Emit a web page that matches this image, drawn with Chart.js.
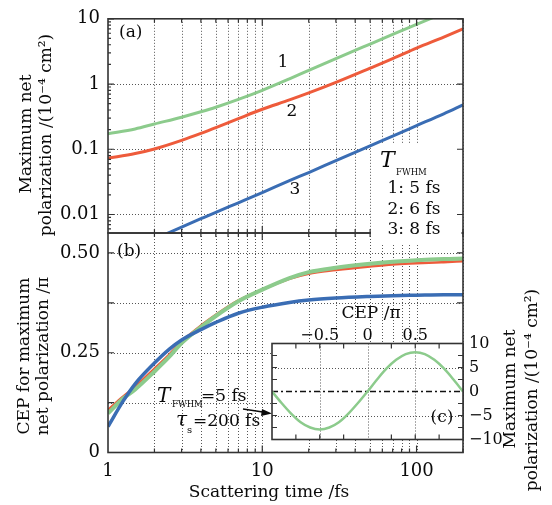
<!DOCTYPE html>
<html lang="en">
<head>
<meta charset="UTF-8">
<title>Maximum net polarization vs scattering time</title>
<script src="https://cdn.jsdelivr.net/npm/chart.js@4.4.1/dist/chart.umd.min.js"></script>
<style>
    body { margin: 0; background: #fff; }
    #wrap { position: relative; width: 552px; height: 505px; }
    #wrap canvas { position: absolute; left: 0; top: 0; }
</style>
</head>
<body>
<div id="wrap">
    <canvas id="chartA" width="552" height="505"></canvas>
    <canvas id="chartB" width="552" height="505"></canvas>
    <canvas id="chartC" width="552" height="505"></canvas>
</div>
<script>
// panel (a): maximum net polarization, 10^-4 cm^2
const timeA = [1, 1.5, 2, 3, 4, 5, 7, 10, 15, 20, 30, 50, 70, 100, 150, 200];
const polA5fs = [0.173, 0.205, 0.244, 0.31, 0.375, 0.44, 0.58, 0.8, 1.2, 1.62, 2.45, 4.1, 5.75, 8.2, 12.2, 16.2];
const polA6fs = [0.073, 0.086, 0.101, 0.137, 0.175, 0.215, 0.295, 0.41, 0.57, 0.73, 1.06, 1.75, 2.45, 3.55, 5.25, 7.0];
const timeA8 = [2, 3, 4, 5, 7, 10, 15, 20, 30, 50, 70, 100, 150, 200];
const polA8fs = [0.0042, 0.0064, 0.0086, 0.0108, 0.0151, 0.0216, 0.033, 0.044, 0.067, 0.113, 0.159, 0.23, 0.35, 0.48];
const yTicksA = [0.01, 0.1, 1, 10];
const yLabelsA = ['0.01', '0.1', '1', '10'];

// panel (b): CEP for maximum net polarization, units of pi
const timeB = [1, 1.25, 1.5, 2, 2.5, 3, 4, 5, 7, 10, 15, 20, 30, 50, 70, 100, 150, 200];
const cepB5fs = [0.098, 0.135, 0.158, 0.203, 0.24, 0.274, 0.314, 0.342, 0.379, 0.408, 0.437, 0.452, 0.463, 0.473, 0.478, 0.482, 0.485, 0.486];
const cepB6fs = [0.107, 0.14, 0.165, 0.21, 0.246, 0.278, 0.318, 0.345, 0.381, 0.408, 0.435, 0.448, 0.457, 0.466, 0.471, 0.474, 0.477, 0.479];
const cepB8fs = [0.065, 0.128, 0.172, 0.224, 0.259, 0.282, 0.308, 0.326, 0.349, 0.364, 0.376, 0.382, 0.387, 0.391, 0.393, 0.394, 0.395, 0.395];
const yTicksB = [0, 0.25, 0.5];
const yLabelsB = ['0', '0.25', '0.50'];
const xTicksB = [1, 10, 100];
const xLabelsB = ['1', '10', '100'];

// inset (c): polarization vs CEP, T_FWHM = 5 fs, tau_s = 200 fs
const cepC = [-1, -0.9, -0.8, -0.7, -0.6, -0.5, -0.4, -0.3, -0.2, -0.1, 0, 0.1, 0.2, 0.3, 0.4, 0.5, 0.6, 0.7, 0.8, 0.9, 1];
const polC = [0, -2.4, -4.6, -6.4, -7.5, -7.9, -7.5, -6.4, -4.6, -2.4, 0, 2.5, 4.8, 6.6, 7.8, 8.2, 7.8, 6.6, 4.8, 2.5, 0];
const xTicksC = [-0.5, 0, 0.5];
const xLabelsC = ['\u22120.5', '0', '0.5'];
const yTicksC = [10, 5, 0, -5, -10];
const yLabelsC = ['10', '5', '0', '\u22125', '\u221210'];

const GREEN = '#8ccb8c';
const RED = '#ee5b3b';
const BLUE = '#3a6db4';
const FONT = 'DejaVu Serif';
const INK = '#0a0a0a';

// minor log positions 2..9 per decade
function logMinor(from, to) {
    const out = [];
    for (let d = from; d <= to; d *= 10) {
        for (let k = 1; k <= 9; k++) out.push(k * d);
    }
    return out;
}
const logGridX = logMinor(1, 100).filter(v => v > 1 && v <= 200);

function pts(xs, ys) {
    return xs.map((x, i) => ({x: x, y: ys[i]}));
}

function line(data, color, width) {
    return {data: data, borderColor: color, borderWidth: width, pointRadius: 0,
        fill: false, cubicInterpolationMode: 'monotone', clip: 0};
}

function fixedTicks(values) {
    return s => { s.ticks = values.map(v => ({value: v})); };
}

function tickFont(size) {
    return {family: FONT, size: size};
}

// grid, inward ticks and frame, drawn through the scales
function frameGrid(cfg) {
    return {
        id: 'frameGrid',
        beforeDatasetsDraw(chart) {
            const {ctx, chartArea: a} = chart;
            const x = chart.scales.x, y = chart.scales.y;
            ctx.save();
            if (cfg.fill) {
                ctx.fillStyle = '#fff';
                ctx.fillRect(a.left, a.top, a.right - a.left, a.bottom - a.top);
            }
            ctx.strokeStyle = '#555';
            ctx.lineWidth = 1;
            ctx.setLineDash([1, 2]);
            ctx.beginPath();
            cfg.gridX.forEach(v => {
                const p = Math.round(x.getPixelForValue(v)) + 0.5;
                ctx.moveTo(p, a.top); ctx.lineTo(p, a.bottom);
            });
            cfg.gridY.forEach(v => {
                const p = Math.round(y.getPixelForValue(v)) + 0.5;
                ctx.moveTo(a.left, p); ctx.lineTo(a.right, p);
            });
            ctx.stroke();
            if (cfg.zeroLine) {
                ctx.strokeStyle = '#111';
                ctx.lineWidth = 1.5;
                ctx.setLineDash([6, 3, 2, 3]);
                const p = y.getPixelForValue(0);
                ctx.beginPath(); ctx.moveTo(a.left, p); ctx.lineTo(a.right, p); ctx.stroke();
            }
            if (cfg.mask) {
                ctx.fillStyle = '#fff';
                ctx.fillRect(cfg.mask[0], cfg.mask[1], cfg.mask[2], cfg.mask[3]);
            }
            ctx.restore();
        },
        afterDatasetsDraw(chart) {
            const {ctx, chartArea: a} = chart;
            const x = chart.scales.x, y = chart.scales.y;
            ctx.save();
            ctx.strokeStyle = '#333';
            ctx.lineWidth = 1.2;
            ctx.beginPath();
            cfg.ticks.forEach(t => {
                t.values.forEach(v => {
                    if (t.axis === 'x') {
                        const p = x.getPixelForValue(v);
                        if (t.sides.includes('bottom')) { ctx.moveTo(p, a.bottom); ctx.lineTo(p, a.bottom - t.len); }
                        if (t.sides.includes('top')) { ctx.moveTo(p, a.top); ctx.lineTo(p, a.top + t.len); }
                    } else {
                        const p = y.getPixelForValue(v);
                        if (t.sides.includes('left')) { ctx.moveTo(a.left, p); ctx.lineTo(a.left + t.len, p); }
                        if (t.sides.includes('right')) { ctx.moveTo(a.right, p); ctx.lineTo(a.right - t.len, p); }
                    }
                });
            });
            ctx.stroke();
            ctx.lineWidth = 1.6;
            ctx.strokeRect(a.left, a.top, a.right - a.left, a.bottom - a.top);
            ctx.restore();
        }
    };
}

function vtext(ctx, str, x, y) {
    ctx.save();
    ctx.translate(x, y);
    ctx.rotate(-Math.PI / 2);
    ctx.textAlign = 'center';
    ctx.textBaseline = 'middle';
    ctx.fillText(str, 0, 0);
    ctx.restore();
}

const baseOptions = {
    responsive: false,
    animation: false,
    events: [],
    plugins: {legend: {display: false}, tooltip: {enabled: false}}
};

// ---------- panel (a)
const textA = {
    id: 'textA',
    afterDraw(chart) {
        const ctx = chart.ctx;
        ctx.save();
        ctx.fillStyle = INK;
        ctx.font = '17px ' + FONT;
        vtext(ctx, 'Maximum net', 27, 134);
        vtext(ctx, 'polarization /(10\u207B\u2074 cm\u00B2)', 47, 135);
        ctx.textAlign = 'left';
        ctx.textBaseline = 'middle';
        ctx.fillText('(a)', 119, 33);
        ctx.textAlign = 'center';
        ctx.fillText('1', 283, 63);
        ctx.fillText('2', 292, 112);
        ctx.fillText('3', 295, 190);
        ctx.restore();
    }
};

new Chart(document.getElementById('chartA'), {
    type: 'line',
    data: {
        datasets: [
            line(pts(timeA8, polA8fs), BLUE, 3),
            line(pts(timeA, polA6fs), RED, 3),
            line(pts(timeA, polA5fs), GREEN, 3)
        ]
    },
    options: Object.assign({}, baseOptions, {
        layout: {padding: {left: 0, right: 89, top: 15, bottom: 272}},
        scales: {
            x: {type: 'logarithmic', min: 1, max: 200, display: false},
            y: {
                type: 'logarithmic', min: 0.0052, max: 10,
                afterFit: s => { s.width = 108; },
                afterBuildTicks: fixedTicks(yTicksA),
                grid: {display: false, drawTicks: false},
                border: {display: false},
                ticks: {padding: 8, color: INK, autoSkip: false, font: tickFont(18),
                    callback: (v, i) => yLabelsA[i]}
            }
        }
    }),
    plugins: [frameGrid({
        gridX: logGridX,
        gridY: [0.01, 0.1, 1],
        mask: [371, 143, 90.5, 91],
        ticks: [
            {axis: 'y', values: yTicksA, len: 6, sides: ['left', 'right']},
            {axis: 'y', values: logMinor(0.001, 1).filter(v => v >= 0.0052 && v < 10 && !yTicksA.includes(v)), len: 3, sides: ['left']},
            {axis: 'x', values: [10, 100], len: 7, sides: ['bottom', 'top']},
            {axis: 'x', values: logGridX.filter(v => v !== 10 && v !== 100), len: 4, sides: ['bottom', 'top']}
        ]
    }), textA]
});

// ---------- panel (b)
const textB = {
    id: 'textB',
    afterDraw(chart) {
        const ctx = chart.ctx;
        ctx.save();
        ctx.fillStyle = INK;
        ctx.font = '17px ' + FONT;
        vtext(ctx, 'CEP for maximum', 25, 356);
        vtext(ctx, 'net polarization /\u03C0', 44, 356);
        ctx.textAlign = 'center';
        ctx.textBaseline = 'middle';
        ctx.fillText('Scattering time /fs', 269, 493);
        ctx.textAlign = 'left';
        ctx.fillText('(b)', 117, 252);

        // T_FWHM = 5 fs, tau_s = 200 fs
        ctx.font = 'italic 20px ' + FONT;
        ctx.fillText('T', 157, 397);
        ctx.font = '8.5px ' + FONT;
        ctx.fillText('FWHM', 172, 405);
        ctx.font = '17px ' + FONT;
        ctx.fillText('=5 fs', 201, 397);
        ctx.font = 'italic 20px ' + FONT;
        ctx.fillText('\u03C4', 176, 421);
        ctx.font = '10px ' + FONT;
        ctx.fillText('s', 187, 430);
        ctx.font = '17px ' + FONT;
        ctx.fillText('=200 fs', 193, 422);

        // arrow to inset
        ctx.strokeStyle = INK;
        ctx.lineWidth = 1.3;
        ctx.beginPath(); ctx.moveTo(243, 409); ctx.lineTo(266, 412.5); ctx.stroke();
        ctx.beginPath();
        ctx.moveTo(272, 413.5); ctx.lineTo(262, 409); ctx.lineTo(261, 416); ctx.closePath();
        ctx.fillStyle = INK;
        ctx.fill();

        // key for panel (a), masks the frame and ticks behind it
        ctx.fillStyle = '#fff';
        ctx.fillRect(371, 224, 90.5, 20);
        ctx.fillStyle = INK;
        ctx.font = 'italic 22px ' + FONT;
        ctx.textAlign = 'left';
        ctx.fillText('T', 380, 161);
        ctx.font = '8.5px ' + FONT;
        ctx.fillText('FWHM', 396, 173);
        ctx.font = '17px ' + FONT;
        ctx.textAlign = 'center';
        ctx.fillText('1: 5 fs', 414, 189);
        ctx.fillText('2: 6 fs', 414, 210);
        ctx.fillText('3: 8 fs', 414, 230);
        ctx.restore();
    }
};

new Chart(document.getElementById('chartB'), {
    type: 'line',
    data: {
        datasets: [
            line(pts(timeB, cepB8fs), BLUE, 3.5),
            line(pts(timeB, cepB5fs), GREEN, 4),
            line(pts(timeB, cepB6fs), RED, 2.5)
        ]
    },
    options: Object.assign({}, baseOptions, {
        layout: {padding: {left: 0, right: 89, top: 233, bottom: 0}},
        scales: {
            x: {
                type: 'logarithmic', min: 1, max: 200,
                afterFit: s => { s.height = 52.5; },
                afterBuildTicks: fixedTicks(xTicksB),
                grid: {display: false, drawTicks: false},
                border: {display: false},
                ticks: {padding: 8, color: INK, autoSkip: false, maxRotation: 0, font: tickFont(18),
                    callback: (v, i) => xLabelsB[i]}
            },
            y: {
                type: 'linear', min: 0, max: 0.55,
                afterFit: s => { s.width = 108; },
                afterBuildTicks: fixedTicks(yTicksB),
                grid: {display: false, drawTicks: false},
                border: {display: false},
                ticks: {padding: 8, color: INK, autoSkip: false, font: tickFont(18),
                    callback: (v, i) => yLabelsB[i]}
            }
        }
    }),
    plugins: [frameGrid({
        gridX: logGridX,
        gridY: [0.125, 0.25, 0.375, 0.5],
        ticks: [
            {axis: 'y', values: [0.125, 0.25, 0.375, 0.5], len: 6, sides: ['left', 'right']},
            {axis: 'x', values: [10, 100], len: 7, sides: ['bottom', 'top']},
            {axis: 'x', values: logGridX.filter(v => v !== 10 && v !== 100), len: 4, sides: ['bottom', 'top']}
        ]
    }), textB]
});

// ---------- inset (c)
const textC = {
    id: 'textC',
    afterDraw(chart) {
        const ctx = chart.ctx;
        ctx.save();
        ctx.fillStyle = INK;
        ctx.font = '17px ' + FONT;
        ctx.textAlign = 'center';
        ctx.textBaseline = 'middle';
        ctx.fillText('CEP /\u03C0', 371, 314);
        vtext(ctx, 'Maximum net', 511, 389);
        vtext(ctx, 'polarization /(10\u207B\u2074 cm\u00B2)', 533, 390);
        ctx.fillText('(c)', 442, 418);
        ctx.restore();
    }
};

new Chart(document.getElementById('chartC'), {
    type: 'line',
    data: {
        datasets: [line(pts(cepC, polC), GREEN, 2.5)]
    },
    options: Object.assign({}, baseOptions, {
        layout: {padding: {left: 272, right: 0, top: 318.5, bottom: 65.5}},
        scales: {
            x: {
                type: 'linear', position: 'top', min: -1, max: 1,
                afterFit: s => { s.height = 25; },
                afterBuildTicks: fixedTicks(xTicksC),
                grid: {display: false, drawTicks: false},
                border: {display: false},
                ticks: {padding: -2, color: INK, autoSkip: false, maxRotation: 0, font: tickFont(16),
                    callback: (v, i) => xLabelsC[i]}
            },
            y: {
                type: 'linear', position: 'right', min: -10, max: 10,
                afterFit: s => { s.width = 89; },
                afterBuildTicks: fixedTicks(yTicksC),
                grid: {display: false, drawTicks: false},
                border: {display: false},
                ticks: {padding: 6, color: INK, autoSkip: false, font: tickFont(16),
                    callback: (v, i) => yLabelsC[i]}
            }
        }
    }),
    plugins: [frameGrid({
        fill: true,
        zeroLine: true,
        gridX: [-0.5, 0, 0.5],
        gridY: [5, -5],
        ticks: [
            {axis: 'y', values: [7.5, 5, 2.5, -2.5, -5, -7.5], len: 5, sides: ['left', 'right']},
            {axis: 'x', values: [-0.75, -0.5, -0.25, 0.25, 0.5, 0.75], len: 5, sides: ['bottom', 'top']}
        ]
    }), textC]
});
</script>
</body>
</html>
